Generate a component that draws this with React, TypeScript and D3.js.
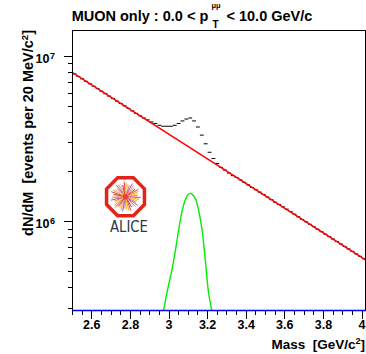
import React from 'react';
import * as d3 from 'd3';

// ---------- data ----------
// histogram: 20 MeV bins starting at 2.50 GeV/c^2 (counts in millions)
const binStart = 2.5;
const binWidth = 0.02;
const dataCountsM = [
  7.84, 7.57, 7.32, 7.07, 6.83, 6.60, 6.38, 6.16, 5.95, 5.75,
  5.56, 5.37, 5.19, 5.02, 4.85, 4.68, 4.52, 4.37, 4.24, 4.13,
  4.01, 3.93, 3.83, 3.78, 3.78, 3.78, 3.83, 3.93, 4.07, 4.18,
  4.24, 4.07, 3.74, 3.34, 2.96, 2.63, 2.41, 2.25, 2.13, 2.05,
  1.97, 1.90, 1.85, 1.79, 1.73, 1.67, 1.61, 1.56, 1.51, 1.46,
  1.41, 1.36, 1.31, 1.27, 1.23, 1.19, 1.15, 1.11, 1.07, 1.03,
  0.998, 0.964, 0.932, 0.900, 0.870, 0.840, 0.812, 0.785, 0.758, 0.733,
  0.708, 0.684, 0.661, 0.638, 0.617, 0.596,
];

// background fit (red)
const fitMass = [2.5, 4.02];
const fitValues = [7.97e6, 5.855e5];

// J/psi signal (green)
const signalMass = [2.955, 2.972, 2.989, 3.015, 3.032, 3.05, 3.067, 3.084, 3.097, 3.11, 3.123, 3.136, 3.153, 3.171, 3.188, 3.205, 3.219, 3.232];
const signalValues = [2.35e5, 2.93e5, 3.7e5, 5.11e5, 6.59e5, 8.91e5, 1.149e6, 1.352e6, 1.45e6, 1.483e6, 1.45e6, 1.383e6, 1.176e6, 8.91e5, 5.87e5, 3.7e5, 3.0e5, 2.4e5];

// third component (blue), below the visible range
const blueMass = [2.5, 4.02];
const blueValues = [1, 1];

const xMajorTicks = [2.6, 2.8, 3.0, 3.2, 3.4, 3.6, 3.8, 4.0];
const xTickLabels = ['2.6', '2.8', '3', '3.2', '3.4', '3.6', '3.8', '4'];
const xMinorStep = 0.05;
const yMajorTicks = [1e6, 1e7];
const yTickExponents = ['6', '7'];
const yMinorTicks = [3e5, 4e5, 5e5, 6e5, 7e5, 8e5, 9e5, 2e6, 3e6, 4e6, 5e6, 6e6, 7e6, 8e6, 9e6];

// ---------- layout ----------
const W = 366;
const H = 354;
const L = 72.5;
const R = 365.5;
const T = 30.5;
const B = 310.5;
const FONT = '"Liberation Sans", Arial, Helvetica, sans-serif';

const logoColors = ['#e8403a', '#f39c34', '#f7d038', '#e96a8f', '#9b59b6', '#f08a5d', '#f4b183', '#c0392b'];

export default function App() {
  const x = d3.scaleLinear().domain([2.5, 4.018]).range([L, R]);
  const y = d3.scaleLog().domain([2.9e5, 1.435e7]).range([B, T]);

  const line = d3.line<[number, number]>().x(d => x(d[0])).y(d => y(d[1]));
  const curve = d3.line<[number, number]>().x(d => x(d[0])).y(d => y(d[1])).curve(d3.curveCatmullRom);

  const fitPts: [number, number][] = fitMass.map((m, i) => [m, fitValues[i]]);
  const sigPts: [number, number][] = signalMass.map((m, i) => [m, signalValues[i]]);
  const bluePts: [number, number][] = blueMass.map((m, i) => [m, Math.max(blueValues[i], y.domain()[0])]);

  const minorX: number[] = [];
  for (let v = 2.5; v <= 4.0001; v += xMinorStep) minorX.push(+v.toFixed(3));

  // logo
  const cx = 125.5, cy = 196.7, Ro = 20.5;
  const octo = d3.range(8).map(i => {
    const a = (Math.PI / 8) + i * Math.PI / 4;
    return [cx + Ro * Math.cos(a), cy + Ro * Math.sin(a)];
  });
  const rays = d3.range(44).map(i => {
    const a = i * (Math.PI * 2 / 44) + 0.05;
    const r1 = 1.5 + (i % 3);
    const r2 = 15 - (i % 4);
    return { x1: cx + r1 * Math.cos(a), y1: cy + r1 * Math.sin(a), x2: cx + r2 * Math.cos(a), y2: cy + r2 * Math.sin(a), c: logoColors[i % logoColors.length] };
  });

  return (
    <svg width={W} height={H} style={{ position: 'absolute', left: 0, top: 0, background: '#fff' }} fontFamily={FONT}>
      <defs>
        <clipPath id="frame">
          <rect x={L} y={T} width={R - L} height={B - T} />
        </clipPath>
      </defs>
      <rect x={0} y={0} width={W} height={H} fill="#fff" />

      {/* title */}
      <text x={71.7} y={20.5} fontSize={14.5} fontWeight="bold" fill="#000">MUON only : 0.0 &lt; p</text>
      <text x={212.5} y={27.5} fontSize={10} fontWeight="bold" fill="#000">T</text>
      <text x={211.5} y={8} fontSize={7.5} fontWeight="bold" fill="#000">μμ</text>
      <text x={226.5} y={20.5} fontSize={14.5} fontWeight="bold" fill="#000">&lt; 10.0 GeV/c</text>

      {/* logo */}
      <g>
        {rays.map((r, i) => (
          <line key={i} x1={r.x1} y1={r.y1} x2={r.x2} y2={r.y2} stroke={r.c} strokeWidth={1} />
        ))}
        <circle cx={cx} cy={cy} r={2.8} fill="#e8403a" />
        <polygon points={octo.map(p => p.join(',')).join(' ')} fill="none" stroke="#e3241b" strokeWidth={3.5} />
        <text x={129} y={232} fontSize={15} fontFamily='"DejaVu Sans", sans-serif' fill="#2c3644" textAnchor="middle" textLength={38} lengthAdjust="spacingAndGlyphs">ALICE</text>
      </g>

      <g clipPath="url(#frame)">
        {/* data histogram markers */}
        {dataCountsM.map((c, i) => {
          const x0 = x(binStart + i * binWidth);
          const x1 = Math.min(x(binStart + (i + 1) * binWidth), R);
          const yy = y(c * 1e6);
          return <line key={i} x1={x0} x2={x1} y1={yy} y2={yy} stroke="#000" strokeWidth={1} />;
        })}
        {/* fit */}
        <path d={line(fitPts) || ''} fill="none" stroke="#ff0000" strokeWidth={1.5} />
        {/* signal */}
        <path d={curve(sigPts) || ''} fill="none" stroke="#00ee00" strokeWidth={1.4} />
      </g>

      {/* frame */}
      <rect x={L} y={T} width={R - L} height={B - T} fill="none" stroke="#000" strokeWidth={1} shapeRendering="crispEdges" />

      {/* x ticks */}
      {minorX.map((v, i) => (
        <line key={'mx' + i} x1={x(v)} x2={x(v)} y1={B} y2={B + 4} stroke="#000" strokeWidth={1} shapeRendering="crispEdges" />
      ))}
      {xMajorTicks.map((v, i) => (
        <g key={'Mx' + i}>
          <line x1={x(v)} x2={x(v)} y1={B} y2={B + 8} stroke="#000" strokeWidth={1} shapeRendering="crispEdges" />
          <text x={x(v)} y={329} fontSize={12.5} fontWeight="bold" textAnchor="middle">{xTickLabels[i]}</text>
        </g>
      ))}

      {/* y ticks */}
      {yMinorTicks.map((v, i) => (
        <line key={'my' + i} x1={L - 5} x2={L} y1={y(v)} y2={y(v)} stroke="#000" strokeWidth={1} shapeRendering="crispEdges" />
      ))}
      {yMajorTicks.map((v, i) => (
        <g key={'My' + i}>
          <line x1={L - 9} x2={L} y1={y(v)} y2={y(v)} stroke="#000" strokeWidth={1} shapeRendering="crispEdges" />
          <text x={49.5} y={y(v) + 6.5} fontSize={12.5} fontWeight="bold" textAnchor="end">10</text>
          <text x={50} y={y(v) + 2.3} fontSize={9} fontWeight="bold">{yTickExponents[i]}</text>
        </g>
      ))}

      {/* blue component on the bottom edge */}
      <path d={line(bluePts) || ''} fill="none" stroke="#0000ff" strokeWidth={1.6} />

      {/* axis titles */}
      <text x={365} y={349} fontSize={13.5} fontWeight="bold" textAnchor="end" style={{ whiteSpace: 'pre' }}>
        Mass  [GeV/c<tspan dy={-5} fontSize={9}>2</tspan><tspan dy={5}>]</tspan>
      </text>
      <text transform="translate(33,30) rotate(-90)" fontSize={14.5} fontWeight="bold" textAnchor="end" style={{ whiteSpace: 'pre' }}>
        dN/dM  [events per 20 MeV/c<tspan dy={-5} fontSize={9.5}>2</tspan><tspan dy={5}>]</tspan>
      </text>
    </svg>
  );
}
